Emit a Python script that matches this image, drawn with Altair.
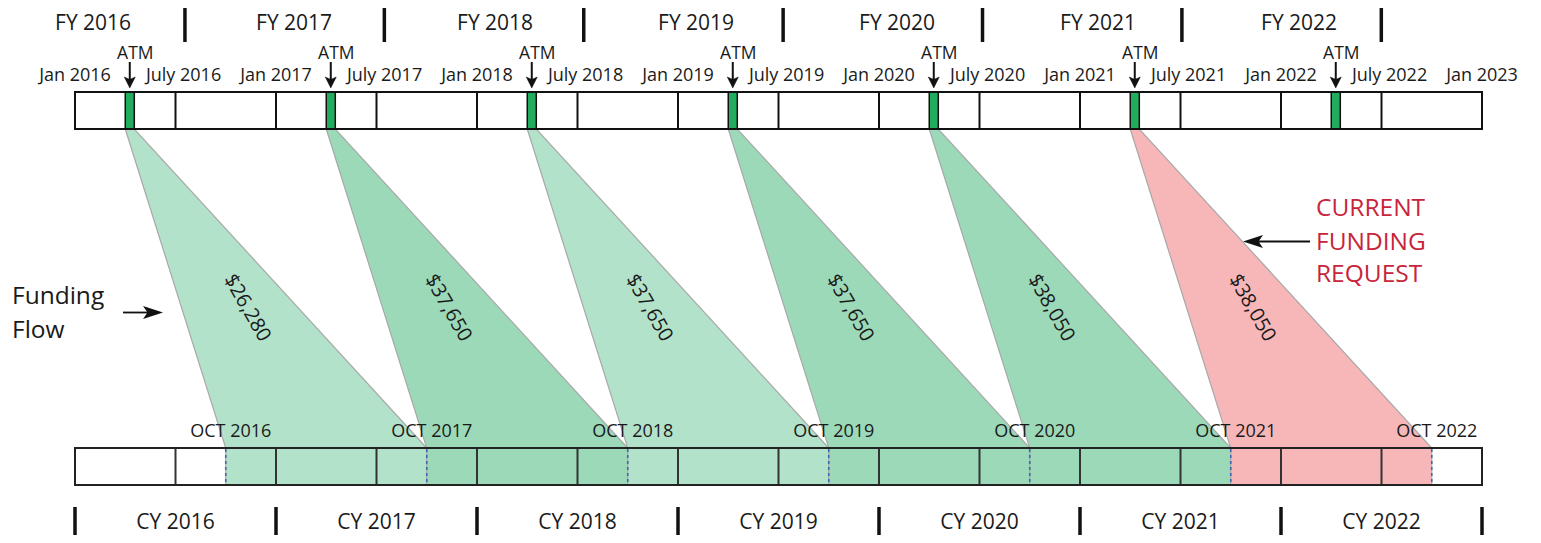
import altair as alt
import pandas as pd

# ---------------- data ----------------
years = [2016, 2017, 2018, 2019, 2020, 2021, 2022]
fy_labels = ["FY 2016", "FY 2017", "FY 2018", "FY 2019", "FY 2020", "FY 2021", "FY 2022"]
cy_labels = ["CY 2016", "CY 2017", "CY 2018", "CY 2019", "CY 2020", "CY 2021", "CY 2022"]
oct_labels = ["OCT 2016", "OCT 2017", "OCT 2018", "OCT 2019", "OCT 2020", "OCT 2021", "OCT 2022"]
date_labels = ["Jan 2016", "July 2016", "Jan 2017", "July 2017", "Jan 2018", "July 2018",
               "Jan 2019", "July 2019", "Jan 2020", "July 2020", "Jan 2021", "July 2021",
               "Jan 2022", "July 2022", "Jan 2023"]
date_values = [2016.0, 2016.5, 2017.0, 2017.5, 2018.0, 2018.5, 2019.0, 2019.5,
               2020.0, 2020.5, 2021.0, 2021.5, 2022.0, 2022.5, 2023.0]
atm_start = [2016.25, 2017.25, 2018.25, 2019.25, 2020.25, 2021.25, 2022.25]
atm_end = [2016.295, 2017.295, 2018.295, 2019.295, 2020.295, 2021.295, 2022.295]
funding_years = [2016, 2017, 2018, 2019, 2020, 2021]
funding_amounts = ["$26,280", "$37,650", "$37,650", "$37,650", "$38,050", "$38,050"]
funding_group = ["light", "dark", "light", "dark", "dark", "current"]

FONT = "Open Sans"
TXT = "#1a1a1a"

X = alt.Scale(domain=[2016, 2023], range=[67, 1474], nice=False, zero=False)
Y = alt.Scale(domain=[8, 535], range=[0, 527], nice=False, zero=False)
COLOR = alt.Scale(domain=["light", "dark", "current"], range=["#b3e2ca", "#9cd9b8", "#f7b7b9"])


def yv(p):
    return alt.value(p - 8)


def xv(p):
    return alt.value(p - 8)


def xf(field):
    return alt.X(field, type="quantitative", scale=X, axis=None)


# ---------------- tables ----------------
poly_rows = []
for yr, grp in zip(funding_years, funding_group):
    i = years.index(yr)
    poly_rows.append(dict(fy=yr, grp=grp, yp=129, x0=atm_start[i], x1=atm_end[i]))
    poly_rows.append(dict(fy=yr, grp=grp, yp=448, x0=yr + 0.75, x1=yr + 1.75))
    poly_rows.append(dict(fy=yr, grp=grp, yp=485, x0=yr + 0.75, x1=yr + 1.75))
poly_df = pd.DataFrame(poly_rows)

atm_df = pd.DataFrame({"s": atm_start, "e": atm_end})
atm_df["c"] = (atm_df["s"] + atm_df["e"]) / 2
atm_df["t"] = atm_df["s"] + 0.05
atm_df["lab"] = "ATM"

span_df = pd.DataFrame({"a": [years[0]], "b": [years[-1] + 1]})
div_df = pd.DataFrame({"d": date_values[1:-1]})
oct_df = pd.DataFrame({"d": [y + 0.75 for y in years], "lab": oct_labels})
fy_df = pd.DataFrame({"d": [y + 0.09 for y in years],
                      "sep": [y + 0.547 - 0.008 * i for i, y in enumerate(years)],
                      "lab": fy_labels})
cy_df = pd.DataFrame({"d": [y + 0.5 for y in years], "lab": cy_labels})
cysep_df = pd.DataFrame({"d": years + [years[-1] + 1]})
date_df = pd.DataFrame({"d": date_values, "lab": date_labels})
date_df["d2"] = [v + (0.04 if l.startswith("July") else 0.0) for v, l in zip(date_values, date_labels)]
amt_df = pd.DataFrame({"d": [y + 0.856 for y in funding_years], "lab": funding_amounts})

# ---------------- layers ----------------
polys = alt.Chart(poly_df).mark_area(orient="horizontal", stroke="#a8a8a8", strokeWidth=1.2,
                                     opacity=1).encode(
    y=alt.Y("yp:Q", scale=Y, axis=None),
    x=xf("x0"),
    x2="x1:Q",
    detail="fy:N",
    color=alt.Color("grp:N", scale=COLOR, legend=None),
)

top_outline = alt.Chart(span_df).mark_rect(filled=False, stroke="#111", strokeWidth=2).encode(
    x=xf("a"), x2="b:Q", y=yv(92), y2=yv(129))
bot_outline = alt.Chart(span_df).mark_rect(filled=False, stroke="#222", strokeWidth=2).encode(
    x=xf("a"), x2="b:Q", y=yv(448), y2=yv(485))

top_div = alt.Chart(div_df).mark_rule(color="#111", strokeWidth=2).encode(
    x=xf("d"), y=yv(92), y2=yv(129))
bot_div = alt.Chart(div_df).mark_rule(color="#333", strokeWidth=2).encode(
    x=xf("d"), y=yv(448), y2=yv(485))

atm_rect = alt.Chart(atm_df).mark_rect(fill="#22ac5e", stroke="#111", strokeWidth=1.5).encode(
    x=xf("s"), x2="e:Q", y=yv(92), y2=yv(129))

oct_dash = alt.Chart(oct_df).mark_rule(color="#3f68b0", strokeWidth=1.6, strokeDash=[3, 3]).encode(
    x=xf("d"), y=yv(449), y2=yv(484))

fy_sep = alt.Chart(fy_df).mark_rule(color="#111", strokeWidth=3.5).encode(
    x=xf("sep"), y=yv(8), y2=yv(42))
cy_sep = alt.Chart(cysep_df).mark_rule(color="#111", strokeWidth=3.5).encode(
    x=xf("d"), y=yv(507), y2=yv(535))

fy_text = alt.Chart(fy_df).mark_text(font=FONT, fontSize=21, color=TXT, baseline="middle").encode(
    x=xf("d"), y=yv(24), text="lab:N")
cy_text = alt.Chart(cy_df).mark_text(font=FONT, fontSize=21, color=TXT, baseline="middle").encode(
    x=xf("d"), y=yv(523), text="lab:N")
oct_text = alt.Chart(oct_df).mark_text(font=FONT, fontSize=18, color=TXT, baseline="middle", dx=5).encode(
    x=xf("d"), y=yv(432), text="lab:N")
date_text = alt.Chart(date_df).mark_text(font=FONT, fontSize=18, color=TXT, baseline="middle").encode(
    x=xf("d2"), y=yv(76), text="lab:N")
atm_text = alt.Chart(atm_df).mark_text(font=FONT, fontSize=17.5, color=TXT, baseline="middle").encode(
    x=xf("t"), y=yv(54), text="lab:N")
atm_shaft = alt.Chart(atm_df).mark_rule(color="#111", strokeWidth=2).encode(
    x=xf("c"), y=yv(62), y2=yv(80))
atm_head = alt.Chart(atm_df).mark_point(shape="M0,1L-1,-1L0,-0.55L1,-1Z", filled=True, fill="#111",
                                        stroke="#111", strokeWidth=0.5, opacity=1, size=121).encode(
    x=xf("c"), y=yv(82.5))
amt_text = alt.Chart(amt_df).mark_text(font=FONT, fontSize=20, color=TXT, baseline="middle",
                                       angle=60).encode(
    x=xf("d"), y=yv(308), text="lab:N")

# annotations
ff_text = alt.Chart(pd.DataFrame({"lab": ["Funding"]})).mark_text(
    font=FONT, fontSize=24.5, color=TXT, align="left", baseline="middle").encode(
    x=xv(12), y=yv(297), text="lab:N")
ff_text2 = alt.Chart(pd.DataFrame({"lab": ["Flow"]})).mark_text(
    font=FONT, fontSize=24.5, color=TXT, align="left", baseline="middle").encode(
    x=xv(12), y=yv(331), text="lab:N")
ff_shaft = alt.Chart(pd.DataFrame({"a": [0]})).mark_rule(color="#111", strokeWidth=1.8).encode(
    x=xv(123), x2=xv(155), y=yv(312.5))
ff_head = alt.Chart(pd.DataFrame({"a": [0]})).mark_point(
    shape="M1,0L-1,-0.65L-0.55,0L-1,0.65Z", filled=True, fill="#111", opacity=1, size=400).encode(
    x=xv(153), y=yv(312.5))

RED = "#c8243b"
req_rows = [("CURRENT", 209), ("FUNDING", 243), ("REQUEST", 275)]
req_layers = [
    alt.Chart(pd.DataFrame({"lab": [t]})).mark_text(
        font=FONT, fontSize=24.5, color=RED, align="left", baseline="middle").encode(
        x=xv(1316), y=yv(yy), text="lab:N")
    for t, yy in req_rows
]
req_shaft = alt.Chart(pd.DataFrame({"a": [0]})).mark_rule(color="#111", strokeWidth=1.8).encode(
    x=xv(1258), x2=xv(1310), y=yv(241.5))
req_head = alt.Chart(pd.DataFrame({"a": [0]})).mark_point(
    shape="M-1,0L1,-0.65L0.55,0L1,0.65Z", filled=True, fill="#111", opacity=1, size=400).encode(
    x=xv(1253), y=yv(241.5))

chart = alt.layer(
    polys, atm_rect, top_div, top_outline, bot_div, oct_dash, bot_outline,
    fy_sep, cy_sep, fy_text, cy_text, oct_text, date_text, atm_text, atm_shaft, atm_head,
    amt_text, ff_text, ff_text2, ff_shaft, ff_head, *req_layers, req_shaft, req_head,
).properties(
    width=1525, height=527, autosize=alt.AutoSizeParams(type="none"), padding=0,
).configure_view(stroke=None)

chart.save("out.html", embed_options={"renderer": "svg", "actions": False})
